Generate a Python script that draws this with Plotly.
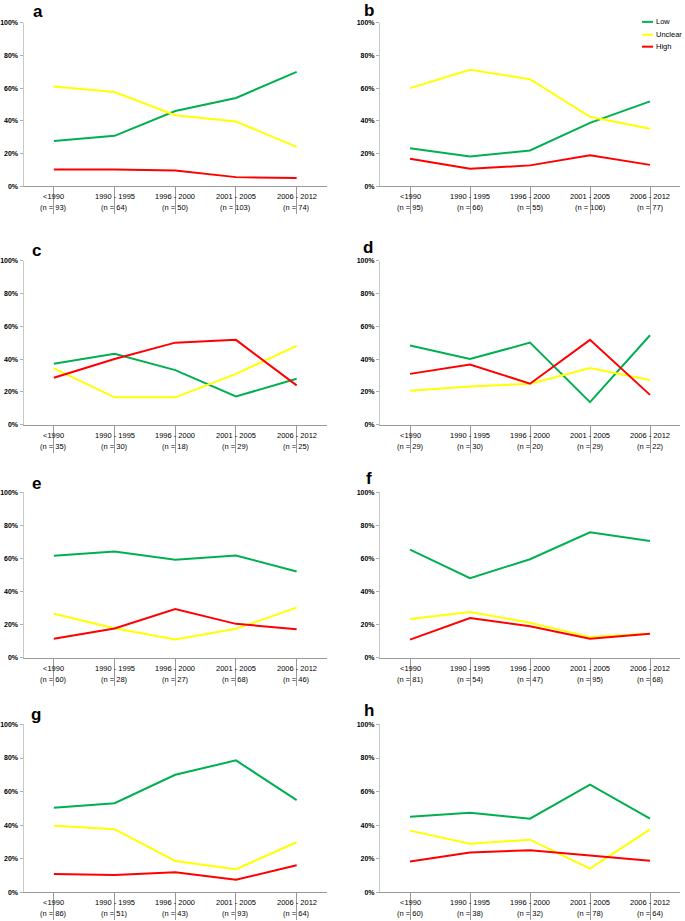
import plotly.graph_objects as go

# ---------------- data ----------------
categories = ["<1990", "1990 - 1995", "1996 - 2000", "2001 - 2005", "2006 - 2012"]
series_names = ["Low", "Unclear", "High"]
panel_names = ["a", "b", "c", "d", "e", "f", "g", "h"]
y_ticks = [0, 20, 40, 60, 80, 100]
y_tick_labels = ["0%", "20%", "40%", "60%", "80%", "100%"]

n_a = [93, 64, 50, 103, 74]
low_a = [27.6, 30.8, 46.0, 54.0, 70.0]
unclear_a = [61.0, 57.6, 43.4, 39.6, 24.0]
high_a = [10.1, 10.1, 9.5, 5.5, 4.9]

n_b = [95, 66, 55, 106, 77]
low_b = [23.2, 18.2, 21.8, 38.7, 51.9]
unclear_b = [60.0, 71.2, 65.5, 42.5, 35.1]
high_b = [16.8, 10.6, 12.7, 18.9, 13.0]

n_c = [35, 30, 18, 29, 25]
low_c = [37.1, 43.3, 33.3, 17.2, 28.0]
unclear_c = [34.3, 16.7, 16.7, 31.0, 48.0]
high_c = [28.6, 40.0, 50.0, 51.7, 24.0]

n_d = [29, 30, 20, 29, 22]
low_d = [48.3, 40.0, 50.0, 13.8, 54.5]
unclear_d = [20.7, 23.3, 25.0, 34.5, 27.3]
high_d = [31.0, 36.7, 25.0, 51.7, 18.2]

n_e = [60, 28, 27, 68, 46]
low_e = [61.7, 64.3, 59.3, 61.8, 52.2]
unclear_e = [26.7, 17.9, 11.1, 17.6, 30.4]
high_e = [11.6, 17.8, 29.6, 20.6, 17.4]

n_f = [81, 54, 47, 95, 68]
low_f = [65.4, 48.1, 59.6, 75.8, 70.6]
unclear_f = [23.5, 27.8, 21.3, 12.6, 14.7]
high_f = [11.1, 24.1, 19.1, 11.6, 14.7]

n_g = [86, 51, 43, 93, 64]
low_g = [50.4, 53.1, 70.0, 78.6, 54.9]
unclear_g = [39.6, 37.6, 18.6, 13.7, 29.8]
high_g = [10.8, 10.2, 11.9, 7.4, 16.1]

n_h = [60, 38, 32, 78, 64]
low_h = [45.0, 47.4, 43.8, 64.1, 43.8]
unclear_h = [36.7, 28.9, 31.3, 14.1, 37.5]
high_h = [18.3, 23.7, 25.0, 21.8, 18.8]

panels = [
    (n_a, low_a, unclear_a, high_a),
    (n_b, low_b, unclear_b, high_b),
    (n_c, low_c, unclear_c, high_c),
    (n_d, low_d, unclear_d, high_d),
    (n_e, low_e, unclear_e, high_e),
    (n_f, low_f, unclear_f, high_f),
    (n_g, low_g, unclear_g, high_g),
    (n_h, low_h, unclear_h, high_h),
]

# ---------------- styling / layout ----------------
W, H = 685, 921
colors = {"Low": "#00b050", "Unclear": "#ffff00", "High": "#ff0000"}
FONT = "Liberation Sans, Arial, sans-serif"
col_x = [(23.5, 327.0), (380.0, 680.0)]
row_y = [(19.0, 183.5), (258.5, 424.0), (492.0, 659.0), (726.0, 895.0)]
letter_pos = [(38, 8), (369, 7), (36, 248), (368, 245), (36, 483), (369, 478), (36, 716), (369, 712)]

def px(x):
    return x / W

def py(y):
    return 1 - y / H

fig = go.Figure()
annotations = []
shapes = []
cat_keys = [c.replace("<", "&lt;") for c in categories]

for i, (ns, low, unclear, high) in enumerate(panels):
    r, c = divmod(i, 2)
    ax = "" if i == 0 else str(i + 1)
    x0, x1 = col_x[c]
    ytop, ybot = row_y[r]
    for name, vals in zip(series_names, [low, unclear, high]):
        fig.add_trace(go.Scatter(
            x=list(range(len(categories))), y=vals, mode="lines", name=name,
            line=dict(color=colors[name], width=2),
            xaxis="x" + ax, yaxis="y" + ax, showlegend=False,
            hovertemplate="%{y:.1f}%<extra>" + name + "</extra>",
        ))
    fig.layout["xaxis" + ax] = dict(
        domain=[px(x0), px(x1)], anchor="y" + ax,
        range=[-0.5, len(categories) - 0.5],
        tickvals=list(range(len(categories))), showticklabels=False,
        tickson="boundaries", ticks="outside", ticklen=27, tickcolor="#9a9a9a", tickwidth=1,
        showline=True, linecolor="#9a9a9a", linewidth=1,
        showgrid=False, zeroline=False, fixedrange=True,
    )
    fig.layout["yaxis" + ax] = dict(
        domain=[py(ybot), py(ytop)], anchor="x" + ax,
        range=[0, 100], tickmode="array", tickvals=y_ticks, ticktext=y_tick_labels,
        ticks="outside", ticklen=3, tickcolor="#b0b0b0",
        showline=True, linecolor="#c8c8c8", linewidth=1,
        showgrid=False, zeroline=False, fixedrange=True,
        tickfont=dict(family=FONT, size=7, color="#000000", weight="bold"),
    )
    for k, (cat, n) in enumerate(zip(cat_keys, ns)):
        annotations.append(dict(
            x=k, y=py(ybot + 10.5), xref="x" + ax, yref="paper",
            text=cat, showarrow=False, xanchor="center", yanchor="middle",
            font=dict(family=FONT, size=7.5, color="#000000"),
        ))
        annotations.append(dict(
            x=k, y=py(ybot + 21.5), xref="x" + ax, yref="paper",
            text="(n = %d)" % n, showarrow=False, xanchor="center", yanchor="middle",
            font=dict(family=FONT, size=7.5, color="#000000"),
        ))
    lx, ly = letter_pos[i]
    annotations.append(dict(
        x=px(lx), y=py(ly), xref="paper", yref="paper", text="<b>%s</b>" % panel_names[i],
        showarrow=False, xanchor="center", yanchor="middle",
        font=dict(family=FONT, size=17, color="#000000"),
    ))

# manual legend (panel b, top right)
leg_y = [18, 31, 43]
for name, yy in zip(series_names, leg_y):
    shapes.append(dict(type="line", xref="paper", yref="paper",
                       x0=px(642), x1=px(653), y0=py(yy), y1=py(yy),
                       line=dict(color=colors[name], width=2)))
    annotations.append(dict(
        x=px(654), y=py(yy), xref="paper", yref="paper", text=name,
        showarrow=False, xanchor="left", yanchor="middle",
        font=dict(family=FONT, size=7.5, color="#000000"),
    ))

fig.update_layout(
    width=W, height=H, margin=dict(l=0, r=0, t=0, b=0),
    paper_bgcolor="white", plot_bgcolor="white",
    font=dict(family=FONT, size=7, color="#000000"),
    annotations=annotations, shapes=shapes, showlegend=False,
)

fig.write_html(
    "out.html",
    config={"displayModeBar": False},
    post_script="document.body.style.margin='0px';document.body.style.overflow='hidden';",
)
